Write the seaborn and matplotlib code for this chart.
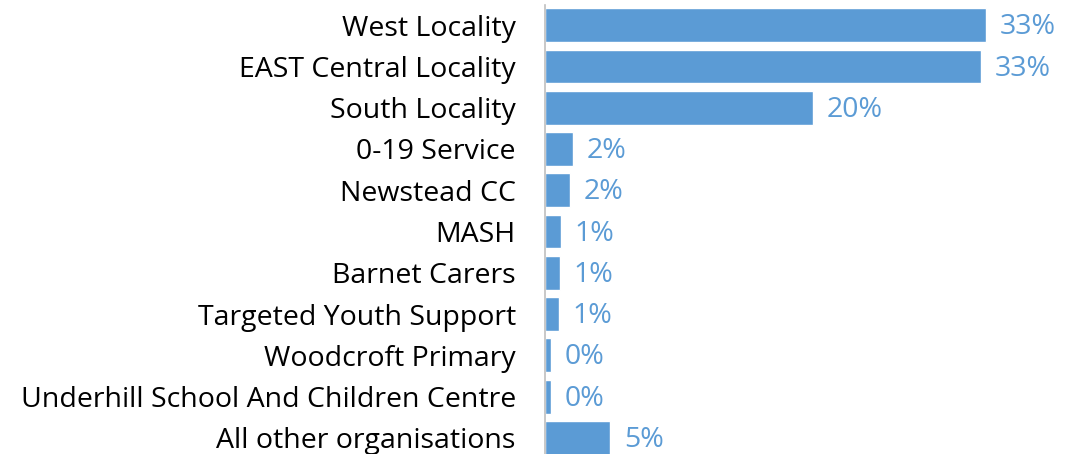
import matplotlib
matplotlib.use("Agg")
import matplotlib.pyplot as plt
import seaborn as sns
import pandas as pd

# data (percent of total)
organisations = [
    "West Locality", "EAST Central Locality", "South Locality", "0-19 Service",
    "Newstead CC", "MASH", "Barnet Carers", "Targeted Youth Support",
    "Woodcroft Primary", "Underhill School And Children Centre",
    "All other organisations",
]
share = [33.0, 32.6, 20.06, 2.07, 1.87, 1.2, 1.12, 1.05, 0.43, 0.43, 4.87]

df = pd.DataFrame({"org": organisations, "share": share})

sns.set_style("white")
plt.rcParams["font.family"] = ["Open Sans", "DejaVu Sans"]

bar_col = "#5B9BD5"

fig = plt.figure(figsize=(10.87, 4.54), dpi=100)
ax = fig.add_axes([0.5014, 0.0, 0.4986, 0.990])

sns.barplot(data=df, x="share", y="org", orient="h", color=bar_col,
            saturation=1, width=0.82, ax=ax)

ax.set_xlim(0, 40.57)
ax.set_ylim(10.39, -0.5)

labels = ax.bar_label(ax.containers[0], labels=[f"{v:.0f}%" for v in share],
                      padding=10, color=bar_col, fontsize=20.5)
# nudge the value labels a touch lower, like the original
for t in labels:
    t.xyann = (10, -1.5)

ax.set_xlabel("")
ax.set_ylabel("")
ax.set_xticks([])
ax.tick_params(axis="y", length=0, pad=21, labelsize=20.5, labelcolor="black")
for s in ["top", "right", "bottom"]:
    ax.spines[s].set_visible(False)
ax.spines["left"].set_color("#BFBFBF")
ax.spines["left"].set_linewidth(1.2)

fig.savefig("out.png", dpi=100)
